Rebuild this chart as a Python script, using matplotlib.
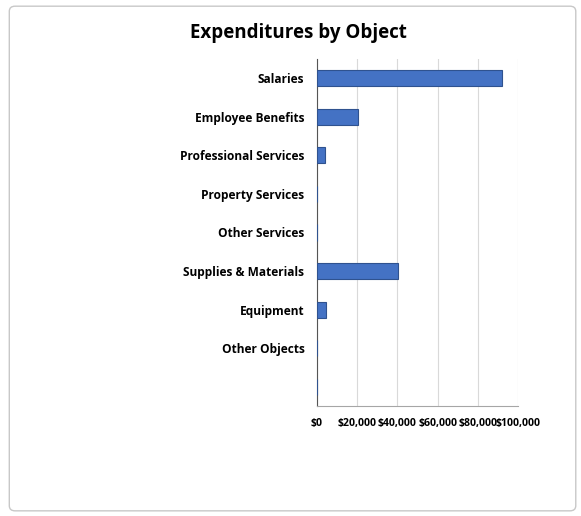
import matplotlib.pyplot as plt
from matplotlib.patches import FancyBboxPatch
from matplotlib.ticker import FuncFormatter

categories = ['Salaries', 'Employee Benefits', 'Professional Services', 'Property Services',
              'Other Services', 'Supplies & Materials', 'Equipment', 'Other Objects', '']
amounts = [92000, 20500, 4000, 0, 0, 40500, 4500, 0, 0]
xticks = [0, 20000, 40000, 60000, 80000, 100000]

plt.rcParams['font.family'] = ['Open Sans', 'DejaVu Sans']

fig = plt.figure(figsize=(5.81, 5.16), dpi=100)
fig.patches.append(FancyBboxPatch((0.016, 0.01), 0.975, 0.978, boxstyle='round,pad=0,rounding_size=0.01',
                                  transform=fig.transFigure, fill=False, edgecolor='#c8c8c8', linewidth=1))

ax = fig.add_axes([0.5456, 0.2132, 0.346, 0.6725])
ypos = list(range(len(categories)))
ax.barh(ypos, amounts, height=0.42, color='#4472C4', edgecolor='#2f528f', linewidth=0.8, zorder=3)
ax.set_ylim(len(categories) - 0.5, -0.5)
ax.set_xlim(0, 100000)
ax.set_yticks(ypos)
ax.set_yticklabels(categories, fontsize=8.6, fontweight='bold')
ax.set_xticks(xticks)
ax.xaxis.set_major_formatter(FuncFormatter(lambda v, p: '${:,.0f}'.format(v)))
for lab in ax.get_xticklabels():
    lab.set_fontsize(7.6)
    lab.set_fontweight('bold')
ax.tick_params(axis='y', length=0, pad=9)
ax.tick_params(axis='x', length=0, pad=9)
ax.grid(axis='x', color='#d9d9d9', linewidth=0.8, zorder=0)
for s in ['top', 'right']:
    ax.spines[s].set_visible(False)
ax.spines['left'].set_color('#555555')
ax.spines['bottom'].set_color('#a6a6a6')

fig.text(0.513, 0.937, 'Expenditures by Object', ha='center', va='center', fontsize=13.5, fontweight='bold')

fig.savefig('out.png', dpi=100)
